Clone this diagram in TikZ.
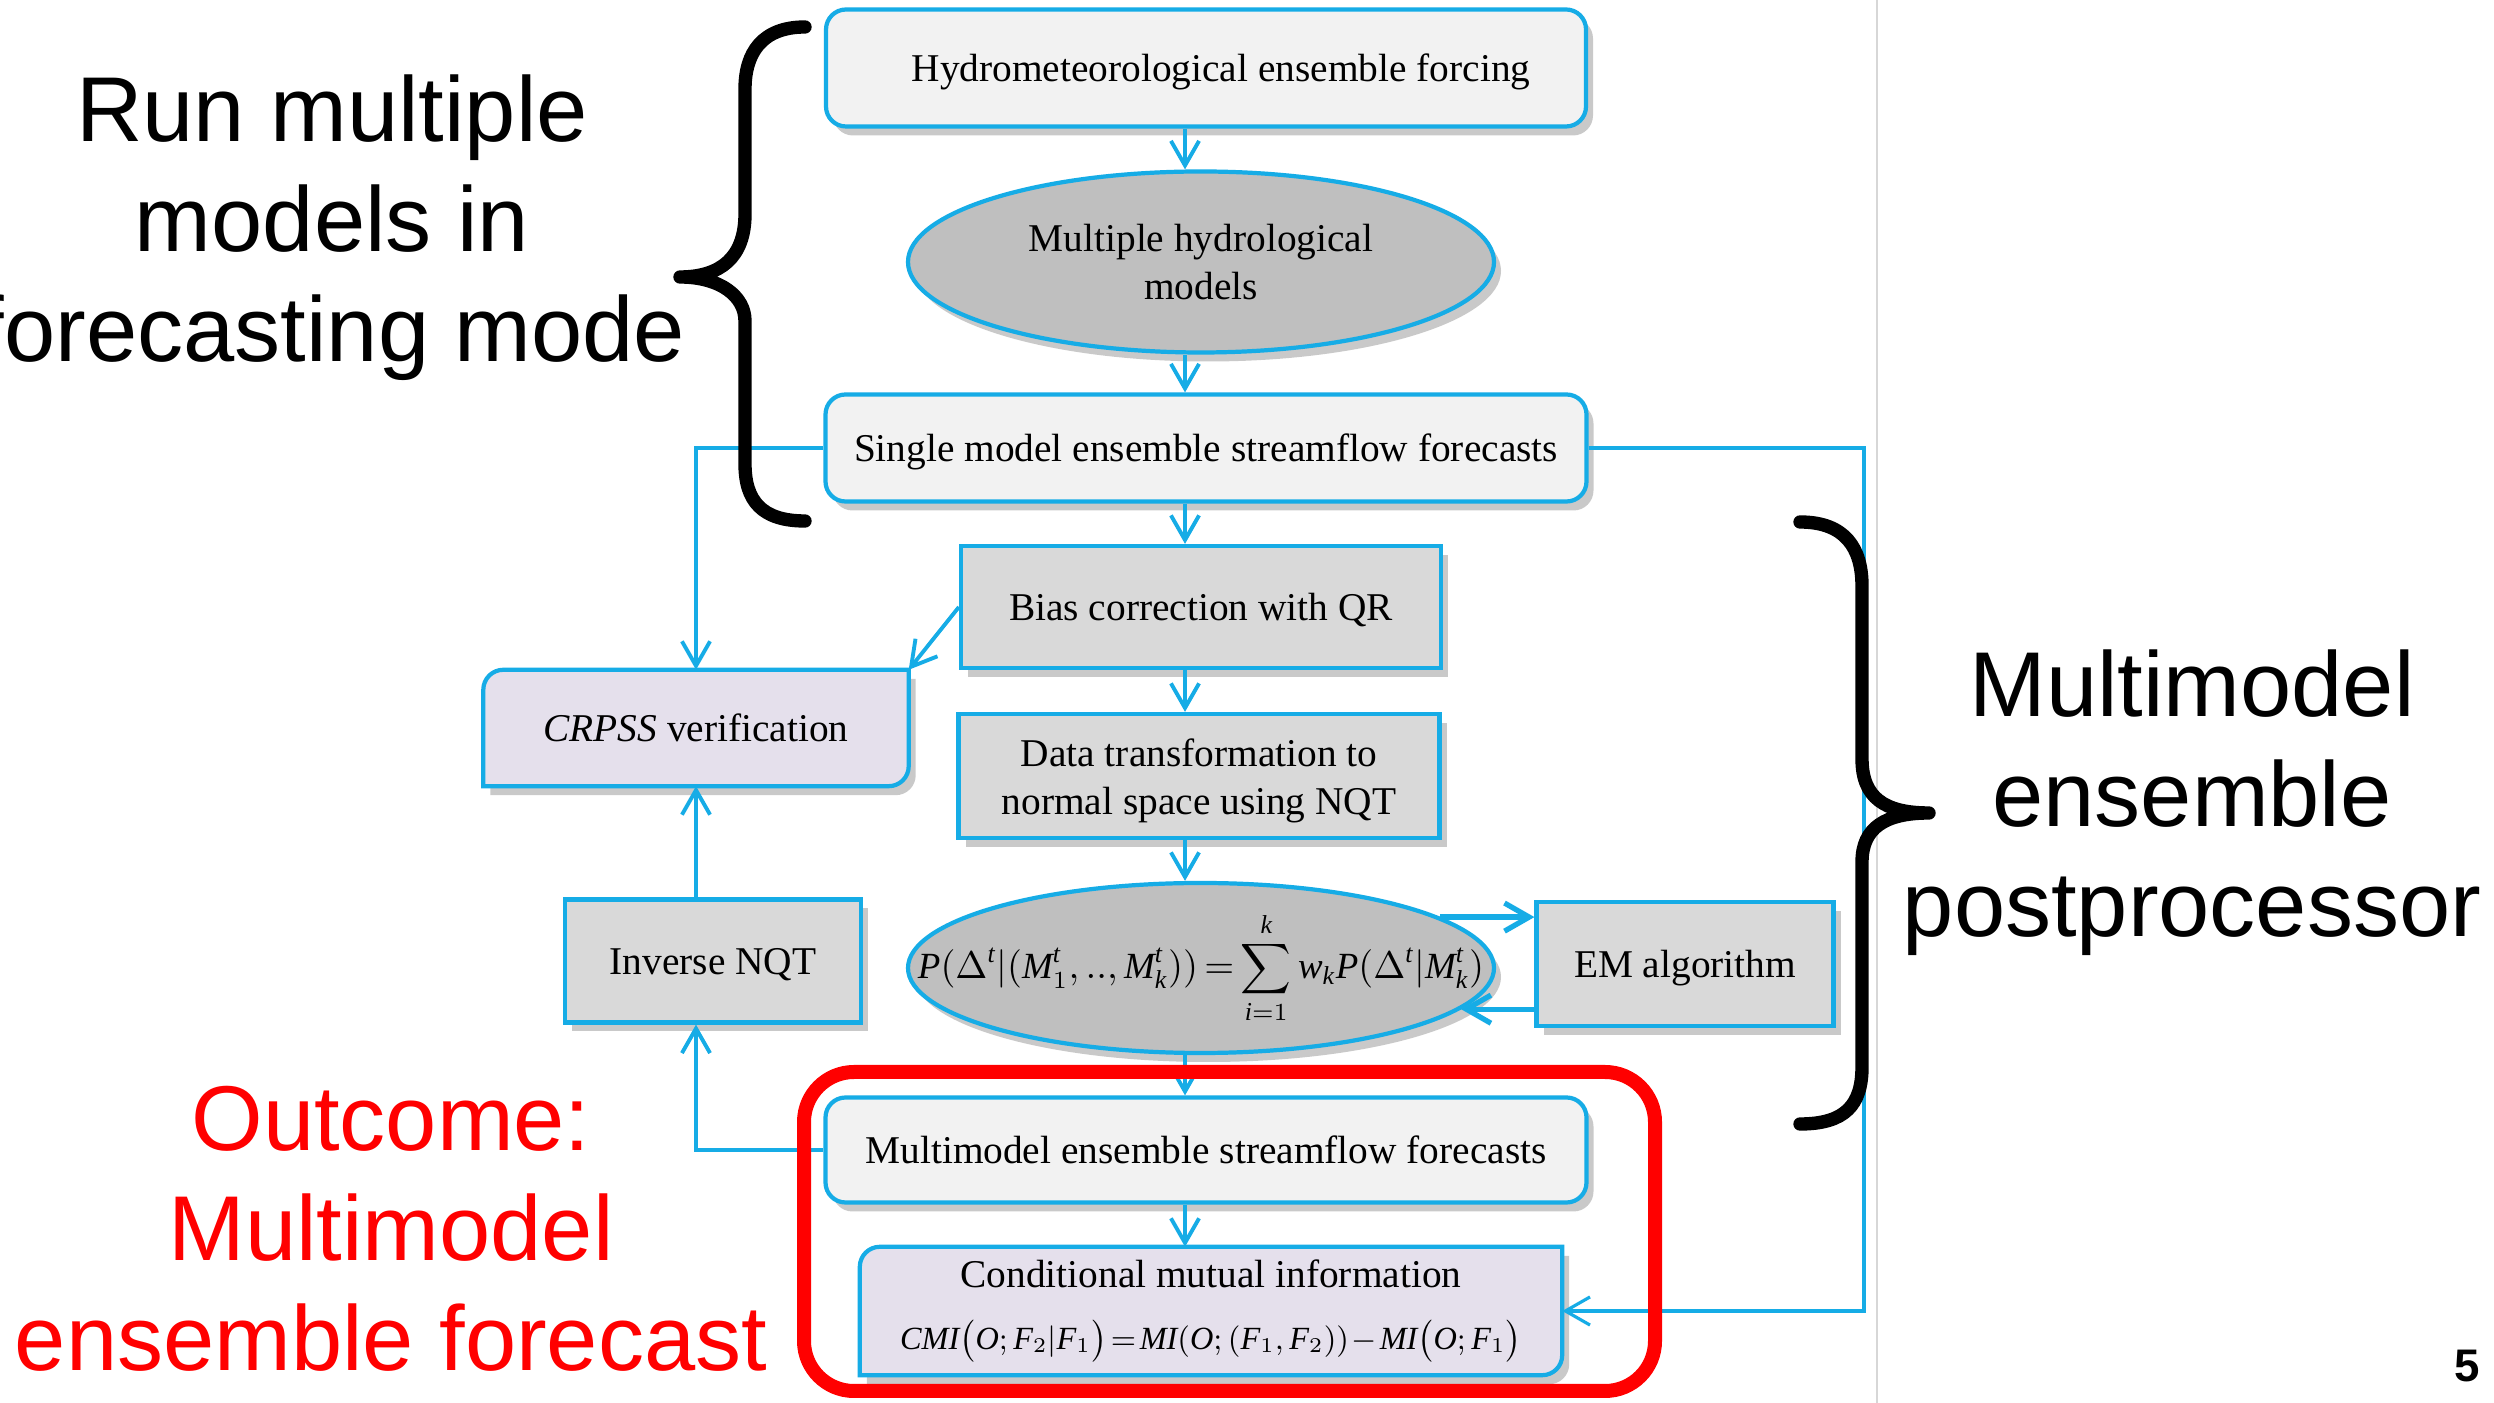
\documentclass[tikz,border=0pt]{standalone}
\usepackage{fontspec}
\setmainfont{Liberation Serif}
\newfontfamily\labelfont{Liberation Sans}
\usepackage{tikz}
\usetikzlibrary{shapes.geometric,arrows.meta,shadows,backgrounds}
\usepackage{xcolor}

\definecolor{flowblue}{RGB}{22,172,230}
\definecolor{boxlight}{RGB}{242,242,242}
\definecolor{boxgray}{RGB}{217,217,217}
\definecolor{ellgray}{RGB}{191,191,191}
\definecolor{lavender}{RGB}{229,224,236}
\definecolor{slidegray}{RGB}{215,215,215}

\begin{document}
\begin{tikzpicture}[
    every node/.style={font=\fontsize{11.2}{13.6}\selectfont, inner sep=0pt},
    shade/.style={drop shadow={shadow xshift=0.7mm, shadow yshift=-0.9mm, fill=black!60, opacity=0.35}},
    rbox/.style={draw=flowblue, line width=1.2pt, fill=boxlight, rounded corners=2mm, shade},
    sbox/.style={draw=flowblue, line width=1.2pt, fill=boxgray, shade},
    ebox/.style={ellipse, draw=flowblue, line width=1.2pt, fill=ellgray, shade},
    hbox/.style={draw=flowblue, line width=1.2pt, fill=lavender, shade},
    lowtext/.style={text height=3.6mm, text depth=0.8mm},
    flow/.style={draw=flowblue, line width=1.1pt, -{Straight Barb[length=7pt, width=8pt]}},
    emflow/.style={flow, line width=1.5pt},
    brace/.style={line width=3.8pt, line cap=round, line join=round},
    biglabel/.style={font=\labelfont\fontsize{26.2}{31.3}\selectfont, align=center}
]
    % Page size and background
    \useasboundingbox (0,0) rectangle (24.94,14.03);
    \begin{scope}[on background layer]
        \fill[white] (0,0) rectangle (24.94,14.03);
    \end{scope}
    \draw[slidegray, line width=0.5pt] (18.77,0) -- (18.77,14.03);

    % Columns used by the connectors
    \coordinate (trunk) at (11.85,0);
    \coordinate (loop) at (18.64,0);

    % Main chain of the flowchart
    \node[rbox, lowtext, minimum width=7.60cm, minimum height=1.17cm] (hydro) at (12.06,13.35) {\hspace*{3mm}Hydrometeorological ensemble forcing};
    \node[ebox, minimum width=5.86cm, minimum height=1.81cm, align=center] (mhm) at (12.01,11.41) {Multiple hydrological\\models};
    \node[rbox, lowtext, minimum width=7.61cm, minimum height=1.07cm] (single) at (12.06,9.55) {Single model ensemble streamflow forecasts};
    \node[sbox, lowtext, minimum width=4.80cm, minimum height=1.22cm] (bias) at (12.01,7.96) {Bias correction with QR};
    \node[sbox, minimum width=4.81cm, minimum height=1.24cm, align=center] (data) at (11.99,6.27) {\rule{0pt}{10.5pt}Data transformation to\\normal space using NQT};
    \node[ebox, minimum width=5.86cm, minimum height=1.70cm] (fm) at (12.01,4.35) {};
    \node[font=\fontsize{10.5}{12}\selectfont] (fmeq) at (fm) {\medmuskip=2mu\thickmuskip=3mu$\displaystyle \mathit{P}\bigl(\Delta^{\mathit{t}}|(\mathit{M}_1^{\mathit{t}},..,\mathit{M}_{\mathit{k}}^{\mathit{t}})\bigr)=\sum_{\mathit{i}=1}^{\mathit{k}}\mathit{w}_{\mathit{k}}\mathit{P}\bigl(\Delta^{\mathit{t}}|\mathit{M}_{\mathit{k}}^{\mathit{t}}\bigr)$};
    \node[sbox, lowtext, minimum width=2.97cm, minimum height=1.24cm] (em) at (16.85,4.39) {EM algorithm};
    \node[sbox, lowtext, minimum width=2.96cm, minimum height=1.23cm] (inv) at (7.13,4.42) {Inverse NQT};
    \node[rbox, lowtext, minimum width=7.61cm, minimum height=1.05cm] (mm) at (12.06,2.53) {Multimodel ensemble streamflow forecasts};
    \node[minimum width=7.01cm, minimum height=1.27cm, align=center] (cmi) at (12.11,0.92) {Conditional mutual information\\[4pt]
        {\fontsize{9.2}{11}\selectfont\medmuskip=1.5mu\thickmuskip=2mu$\mathit{CMI}\bigl(\mathit{O};\mathit{F}_2|\mathit{F}_1\bigr)=\mathit{MI}(\mathit{O};(\mathit{F}_1,\mathit{F}_2))-\mathit{MI}\bigl(\mathit{O};\mathit{F}_1\bigr)$}};
    \node[lowtext, minimum width=4.24cm, minimum height=1.15cm] (crpss) at (6.96,6.75) {\textit{CRPSS} verification};

    % Boxes with two rounded corners
    \begin{scope}[on background layer]
        \path[hbox] (crpss.south west) -- ([yshift=-2mm]crpss.north west) arc[start angle=180, end angle=90, radius=2mm]
            -- (crpss.north east) -- ([yshift=2mm]crpss.south east) arc[start angle=0, end angle=-90, radius=2mm] -- cycle;
        \path[hbox] (cmi.south west) -- ([yshift=-2mm]cmi.north west) arc[start angle=180, end angle=90, radius=2mm]
            -- (cmi.north east) -- ([yshift=2mm]cmi.south east) arc[start angle=0, end angle=-90, radius=2mm] -- cycle;
    \end{scope}

    % Arrows down the trunk
    \draw[flow] (hydro.south -| trunk) -- (mhm.north -| trunk);
    \draw[flow] (mhm.south -| trunk) -- (single.north -| trunk);
    \draw[flow] (single.south -| trunk) -- (bias.north -| trunk);
    \draw[flow] (bias.south -| trunk) -- (data.north -| trunk);
    \draw[flow] (data.south -| trunk) -- (fm.north -| trunk);
    \draw[flow] (fm.south -| trunk) -- (mm.north -| trunk);
    \draw[flow] (mm.south -| trunk) -- (cmi.north -| trunk);

    % Verification branch on the left
    \draw[flow] (single.west) -| (crpss.north);
    \draw[flow] (bias.west) -- (crpss.north east);
    \draw[flow] (crpss.south |- inv.north) -- (crpss.south);
    \draw[flow] (mm.west) -| (crpss.south |- inv.south);

    % EM loop
    \draw[emflow] (fm.12) -- (fm.12 -| em.west);
    \draw[emflow] (em.west |- fm.351) -- (fm.351);

    % Single model forecasts to CMI
    \draw[flow, line width=0.9pt] (single.east) -- (loop |- single.east) |- (cmi.east);

    % Curly braces
    \draw[brace] (8.05,13.76) .. controls (7.62,13.76) and (7.45,13.50) .. (7.45,13.14) -- (7.45,11.89)
        .. controls (7.45,11.45) and (7.20,11.26) .. (6.80,11.26)
        .. controls (7.20,11.26) and (7.45,11.07) .. (7.45,10.82) -- (7.45,9.39)
        .. controls (7.45,9.02) and (7.62,8.82) .. (8.05,8.82);
    \draw[brace] (18.00,8.81) .. controls (18.45,8.81) and (18.62,8.55) .. (18.62,8.17) -- (18.62,6.44)
        .. controls (18.62,6.05) and (18.85,5.90) .. (19.29,5.90)
        .. controls (18.85,5.90) and (18.62,5.75) .. (18.62,5.41) -- (18.62,3.36)
        .. controls (18.62,2.98) and (18.45,2.79) .. (18.00,2.79);

    % Outcome frame
    \draw[red, line width=0.14cm, rounded corners=5mm] (8.04,0.12) rectangle (16.55,3.31);

    % Slide labels
    \node[biglabel] (runlab) at (3.32,11.75) {Run multiple\\models in\\forecasting mode};
    \node[biglabel] (postlab) at (21.92,6.00) {Multimodel\\ensemble\\postprocessor};
    \node[biglabel, text=red] (outlab) at (3.91,1.74) {Outcome:\\Multimodel\\ensemble forecast};
    \node[font=\labelfont\bfseries\fontsize{13}{15}\selectfont, anchor=base] (pnum) at (24.67,0.21) {5};
\end{tikzpicture}
\end{document}
